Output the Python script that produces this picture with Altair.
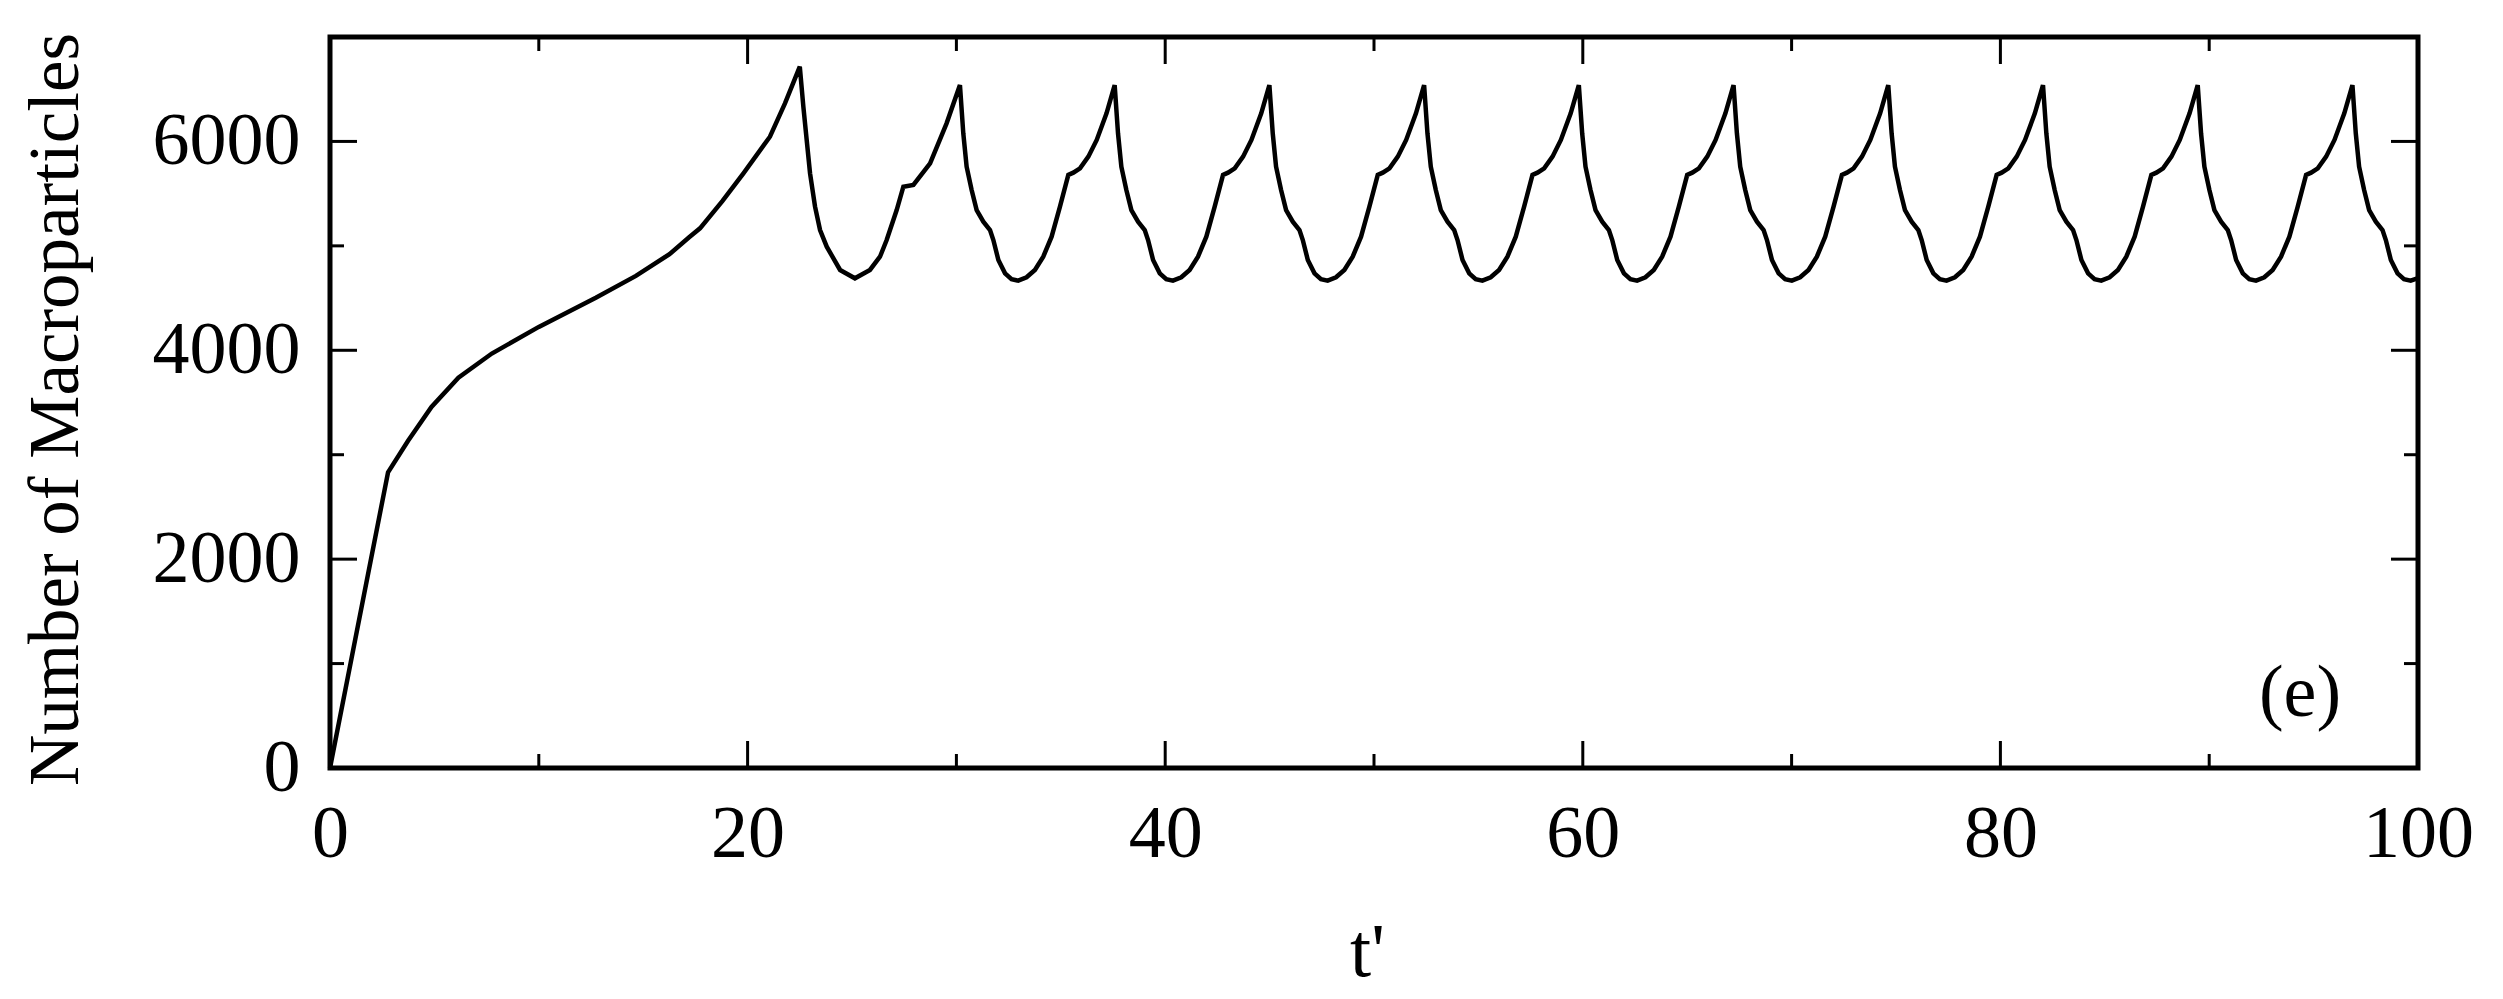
import altair as alt
import pandas as pd

# ---- data ----
t_values = [
    0.0, 2.78, 3.74, 4.86, 6.15, 7.75, 10.0, 12.73, 14.65, 16.26, 17.2, 17.72, 18.8, 19.8, 21.07, 21.79, 22.5,
    22.67, 22.83, 22.99, 23.23, 23.47, 23.79, 24.43, 25.14, 25.86, 26.34, 26.66, 27.14, 27.46, 27.94, 28.74, 29.53,
    30.17, 30.33, 30.49, 30.73, 30.97, 31.29, 31.61, 31.77, 32.01, 32.33, 32.64, 32.96, 33.36, 33.76, 34.16, 34.56, 34.96, 35.36, 35.60, 35.92, 36.32, 36.72, 37.19,
    37.58, 37.74, 37.90, 38.14, 38.38, 38.70, 39.02, 39.18, 39.42, 39.74, 40.05, 40.37, 40.77, 41.17, 41.57, 41.97, 42.37, 42.77, 43.01, 43.33, 43.73, 44.13, 44.60,
    44.99, 45.15, 45.31, 45.55, 45.79, 46.11, 46.43, 46.59, 46.83, 47.15, 47.46, 47.78, 48.18, 48.58, 48.98, 49.38, 49.78, 50.18, 50.42, 50.74, 51.14, 51.54, 52.01,
    52.40, 52.56, 52.72, 52.96, 53.20, 53.52, 53.84, 54.00, 54.24, 54.56, 54.87, 55.19, 55.59, 55.99, 56.39, 56.79, 57.19, 57.59, 57.83, 58.15, 58.55, 58.95, 59.42,
    59.81, 59.97, 60.13, 60.37, 60.61, 60.93, 61.25, 61.41, 61.65, 61.97, 62.28, 62.60, 63.00, 63.40, 63.80, 64.20, 64.60, 65.00, 65.24, 65.56, 65.96, 66.36, 66.83,
    67.22, 67.38, 67.54, 67.78, 68.02, 68.34, 68.66, 68.82, 69.06, 69.38, 69.69, 70.01, 70.41, 70.81, 71.21, 71.61, 72.01, 72.41, 72.65, 72.97, 73.37, 73.77, 74.24,
    74.63, 74.79, 74.95, 75.19, 75.43, 75.75, 76.07, 76.23, 76.47, 76.79, 77.10, 77.42, 77.82, 78.22, 78.62, 79.02, 79.42, 79.82, 80.06, 80.38, 80.78, 81.18, 81.65,
    82.04, 82.20, 82.36, 82.60, 82.84, 83.16, 83.48, 83.64, 83.88, 84.20, 84.51, 84.83, 85.23, 85.63, 86.03, 86.43, 86.83, 87.23, 87.47, 87.79, 88.19, 88.59, 89.06,
    89.45, 89.61, 89.77, 90.01, 90.25, 90.57, 90.89, 91.05, 91.29, 91.61, 91.92, 92.24, 92.64, 93.04, 93.44, 93.84, 94.24, 94.64, 94.88, 95.20, 95.60, 96.00, 96.47,
    96.86, 97.02, 97.18, 97.42, 97.66, 97.98, 98.30, 98.46, 98.70, 99.02, 99.33, 99.65, 100.0,
]
n_values = [
    0, 2832, 3133, 3458, 3737, 3969, 4224, 4503, 4712, 4921, 5083, 5168, 5431, 5695, 6045, 6365, 6716,
    6333, 6014, 5695, 5375, 5152, 4992, 4769, 4689, 4769, 4896, 5056, 5343, 5566, 5583, 5790, 6173,
    6540, 6078, 5758, 5535, 5343, 5232, 5152, 5056, 4865, 4737, 4680, 4667, 4699, 4769, 4896, 5088, 5375, 5679, 5701, 5742, 5854, 6014, 6269,
    6540, 6078, 5758, 5535, 5343, 5232, 5152, 5056, 4865, 4737, 4680, 4667, 4699, 4769, 4896, 5088, 5375, 5679, 5701, 5742, 5854, 6014, 6269,
    6540, 6078, 5758, 5535, 5343, 5232, 5152, 5056, 4865, 4737, 4680, 4667, 4699, 4769, 4896, 5088, 5375, 5679, 5701, 5742, 5854, 6014, 6269,
    6540, 6078, 5758, 5535, 5343, 5232, 5152, 5056, 4865, 4737, 4680, 4667, 4699, 4769, 4896, 5088, 5375, 5679, 5701, 5742, 5854, 6014, 6269,
    6540, 6078, 5758, 5535, 5343, 5232, 5152, 5056, 4865, 4737, 4680, 4667, 4699, 4769, 4896, 5088, 5375, 5679, 5701, 5742, 5854, 6014, 6269,
    6540, 6078, 5758, 5535, 5343, 5232, 5152, 5056, 4865, 4737, 4680, 4667, 4699, 4769, 4896, 5088, 5375, 5679, 5701, 5742, 5854, 6014, 6269,
    6540, 6078, 5758, 5535, 5343, 5232, 5152, 5056, 4865, 4737, 4680, 4667, 4699, 4769, 4896, 5088, 5375, 5679, 5701, 5742, 5854, 6014, 6269,
    6540, 6078, 5758, 5535, 5343, 5232, 5152, 5056, 4865, 4737, 4680, 4667, 4699, 4769, 4896, 5088, 5375, 5679, 5701, 5742, 5854, 6014, 6269,
    6540, 6078, 5758, 5535, 5343, 5232, 5152, 5056, 4865, 4737, 4680, 4667, 4699, 4769, 4896, 5088, 5375, 5679, 5701, 5742, 5854, 6014, 6269,
    6540, 6078, 5758, 5535, 5343, 5232, 5152, 5056, 4865, 4737, 4680, 4667, 4690,
]

x_major = [0, 20, 40, 60, 80, 100]
x_minor = [10, 30, 50, 70, 90]
y_major = [0, 2000, 4000, 6000]
y_minor = [1000, 3000, 5000]
panel_label = ["(e)"]

x_title = "t'"
y_title = "Number of Macroparticles"

# ---- layout / style ----
W, H = 2088, 731
FONT = "Liberation Serif"
MAJ, MIN = 27, 14
TICK_W = 3

df = pd.DataFrame({"t": t_values, "N": n_values})
xscale = alt.Scale(domain=[0, 100], nice=False, zero=False)
yscale = alt.Scale(domain=[0, 7000], nice=False, zero=False)

xaxis = alt.Axis(values=x_major, title=x_title, labelPadding=30, format="d",
                 labelFlush=False, labelOverlap=False,
                 titleX=1037, titleY=207, titleAlign="center",
                 titleBaseline="alphabetic", titleFontSize=76)
yaxis = alt.Axis(values=y_major, title=y_title, labelPadding=30, format="d",
                 labelFlush=False, labelOverlap=False,
                 titleX=-253, titleY=372, titleAngle=-90,
                 titleAlign="center", titleBaseline="alphabetic",
                 titleFontSize=71)

line = alt.Chart(df).mark_line(color="black", strokeWidth=4.5).encode(
    x=alt.X("t:Q", scale=xscale, axis=xaxis),
    y=alt.Y("N:Q", scale=yscale, axis=yaxis),
)

xmaj = pd.DataFrame({"t": x_major})
xmin = pd.DataFrame({"t": x_minor})
ymaj = pd.DataFrame({"N": y_major})
ymin = pd.DataFrame({"N": y_minor})


def xticks(d, L):
    bx = alt.X("t:Q", scale=xscale, axis=xaxis)
    bottom = alt.Chart(d).mark_rule(color="black", strokeWidth=TICK_W).encode(
        x=bx, y=alt.value(H), y2=alt.value(H - L))
    top = alt.Chart(d).mark_rule(color="black", strokeWidth=TICK_W).encode(
        x=bx, y=alt.value(0), y2=alt.value(L))
    return [bottom, top]


def yticks(d, L):
    by = alt.Y("N:Q", scale=yscale, axis=yaxis)
    left = alt.Chart(d).mark_rule(color="black", strokeWidth=TICK_W).encode(
        y=by, x=alt.value(0), x2=alt.value(L))
    right = alt.Chart(d).mark_rule(color="black", strokeWidth=TICK_W).encode(
        y=by, x=alt.value(W), x2=alt.value(W - L))
    return [left, right]


label = alt.Chart(pd.DataFrame({"label": panel_label})).mark_text(
    font=FONT, fontSize=74, align="center", baseline="alphabetic", color="black"
).encode(text="label:N", x=alt.value(1970), y=alt.value(679))

layers = [line] + xticks(xmaj, MAJ) + xticks(xmin, MIN) + yticks(ymaj, MAJ) + yticks(ymin, MIN) + [label]

chart = alt.layer(*layers).properties(
    width=W, height=H,
    autosize=alt.AutoSizeParams(type="none"),
    padding={"left": 322, "top": 29, "right": 60, "bottom": 225},
).configure_view(
    stroke="black", strokeWidth=5
).configure_axis(
    domain=False, ticks=False, tickSize=0, grid=False,
    labelFont=FONT, labelFontSize=74, labelColor="black",
    titleFont=FONT, titleFontWeight="normal", titleColor="black",
)

chart.save("out.html", embed_options={"renderer": "svg", "actions": False})
